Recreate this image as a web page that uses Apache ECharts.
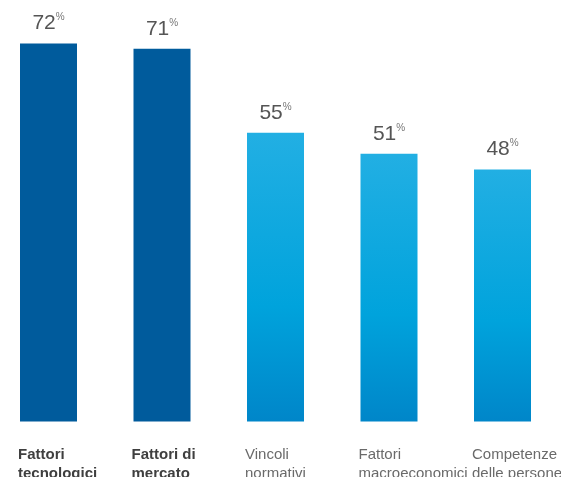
<!DOCTYPE html>
<html>
<head>
<meta charset="utf-8">
<script src="https://cdn.jsdelivr.net/npm/echarts@6/dist/echarts.min.js"></script>
<style>
	html, body { margin: 0; padding: 0; background: #fff; }
	#chart { width: 561px; height: 477px; }
</style>
</head>
<body>
<div id="chart"></div>
<script>
// data
const categories = [
	'Fattori\ntecnologici',
	'Fattori di\nmercato',
	'Vincoli\nnormativi',
	'Fattori\nmacroeconomici',
	'Competenze\ndelle persone'
]
const values = [72, 71, 55, 51, 48]
const highlighted = [true, true, false, false, false]

const darkBlue = '#005b9c'
const lightBlue = new echarts.graphic.LinearGradient(0, 0, 0, 1, [
	{ offset: 0, color: '#22afe3' },
	{ offset: 0.6, color: '#00a3dc' },
	{ offset: 1, color: '#0086c9' }
])

const chart = echarts.init(document.getElementById('chart'))

chart.setOption({
	animation: false,
	grid: [
		{ left: -8.25, width: 567.5, top: 1.5, bottom: 55.5, outerBoundsMode: 'none' },
		// separate strip just for the category names, left-aligned under each bar
		{ left: 18, right: 89, top: 300, bottom: 40, outerBoundsMode: 'none' }
	],
	xAxis: [
		{
			type: 'category',
			gridIndex: 0,
			data: categories,
			axisLine: { show: false },
			axisTick: { show: false },
			axisLabel: { show: false }
		},
		{
			type: 'category',
			gridIndex: 1,
			data: categories,
			boundaryGap: false,
			axisLine: { show: false },
			axisTick: { show: false },
			axisLabel: {
				interval: 0,
				align: 'left',
				verticalAlign: 'top',
				margin: 8,
				formatter: (val, idx) => {
					const style = highlighted[idx] ? 'b' : 'n'
					return val
						.split('\n')
						.map(line => `{${style}|${line}}`)
						.join('\n')
				},
				rich: {
					b: {
						fontFamily: 'Liberation Sans',
						fontSize: 15,
						fontWeight: 'bold',
						color: '#3f3f3f',
						lineHeight: 19
					},
					n: {
						fontFamily: 'Liberation Sans',
						fontSize: 15,
						color: '#6a6a6a',
						lineHeight: 19
					}
				}
			}
		}
	],
	yAxis: [
		{ type: 'value', gridIndex: 0, min: 0, max: 80, show: false },
		{ type: 'value', gridIndex: 1, show: false }
	],
	series: [
		{
			type: 'bar',
			xAxisIndex: 0,
			yAxisIndex: 0,
			barWidth: 57,
			data: values.map((v, i) => ({
				value: v,
				itemStyle: { color: highlighted[i] ? darkBlue : lightBlue }
			})),
			label: {
				show: true,
				position: 'top',
				distance: 9,
				formatter: '{a|{c}}{p|%}',
				rich: {
					a: {
						fontFamily: 'Liberation Sans',
						fontSize: 21,
						color: '#555',
						lineHeight: 22
					},
					p: {
						fontFamily: 'Liberation Sans',
						fontSize: 10,
						color: '#777',
						verticalAlign: 'top',
						lineHeight: 22
					}
				}
			}
		}
	]
})
</script>
</body>
</html>
